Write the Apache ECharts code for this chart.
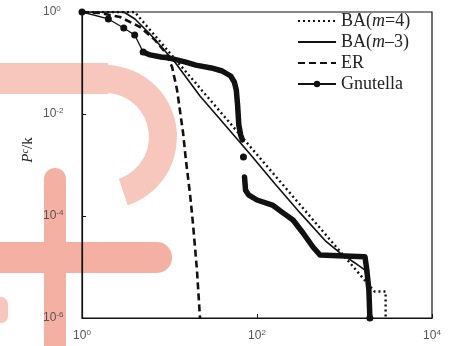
<!DOCTYPE html>
<html>
<head>
<meta charset="utf-8">
<script src="https://cdn.jsdelivr.net/npm/echarts@6/dist/echarts.min.js"></script>
<style>html,body{margin:0;padding:0;background:#fff}#c{width:449px;height:346px}</style>
</head>
<body>
<div id="c"></div>
<script>
// Axis ticks (degree k on x, cumulative P on y)
const xTicks = [1, 100, 10000];
const yTicks = [1e-6, 1e-4, 1e-2, 1];

// BA(m=4)
const ba4K = [1, 4, 5, 10, 20, 50, 100, 200, 500, 1000, 2200, 2950, 2950];
const ba4P = [1, 1, 0.64, 0.16, 0.04, 0.0064, 0.0016, 0.0004, 6.4e-5, 1.6e-5, 3.3e-6, 3.3e-6, 1e-6];

// BA(m=3)
const ba3K = [1, 3, 4.03, 5.98, 11.5, 22.3, 43.1, 83.2, 161, 311, 600, 888, 1318, 1715, 1870, 2010];
const ba3P = [1, 1, 0.729, 0.37, 0.105, 0.0225, 0.0061, 0.00164, 4.25e-4, 1.15e-4, 3.3e-5, 1.89e-5, 1.2e-5, 8.7e-6, 3.5e-6, 1e-6];

// ER
const erK = [1, 1.6, 2.72, 4.6, 6.83, 8.9, 10.7, 12.2, 14.3, 15.4, 17.2, 18.6, 20.6, 22.3];
const erP = [1, 0.956, 0.798, 0.508, 0.283, 0.164, 0.0835, 0.0296, 0.00425, 0.00125, 2.6e-4, 6.7e-5, 8.7e-6, 1e-6];

// Gnutella: sparse head (distinct markers)
const gnHeadK = [1, 2, 3, 4, 5];
const gnHeadP = [1, 0.73, 0.485, 0.354, 0.164];
// Gnutella: dense part, first segment
const gnAK = [5, 6, 8, 10, 15, 20, 30, 40, 50, 55, 58, 60, 62, 65, 68];
const gnAP = [0.164, 0.144, 0.131, 0.125, 0.105, 0.091, 0.080, 0.0697, 0.0556, 0.0425, 0.0296, 0.015, 0.00608, 0.0039, 0.0031];
// Gnutella: dense part, second segment
const gnBK = [72, 74, 80, 100, 150, 200, 258, 336, 436, 525, 1000, 1715, 1800, 1900, 1950];
const gnBP = [5.8e-4, 3.2e-4, 2.6e-4, 2.06e-4, 1.64e-4, 1.14e-4, 8.35e-5, 4.64e-5, 2.47e-5, 1.72e-5, 1.65e-5, 1.58e-5, 8.7e-6, 3.5e-6, 1e-6];
// Gnutella: isolated points
const gnPtK = [70, 1950];
const gnPtP = [0.00144, 1e-6];

const zip = (a, b) => a.map((v, i) => [v, b[i]]);

const chart = echarts.init(document.getElementById('c'), null, {renderer: 'canvas'});

const supFmt = v => {
  const e = Math.round(Math.log10(v));
  return '{b|10}{s|' + e + '}';
};
const lblRich = {
  b: {fontSize: 12, color: '#555', fontFamily: 'Liberation Sans'},
  s: {fontSize: 8, color: '#555', fontFamily: 'Liberation Sans', verticalAlign: 'top', padding: [0, 0, 6, 0]}
};
const legendNames = {
  'BA(m=4)': '{n|BA(}{i|m}{n|=4)}',
  'BA(m=3)': '{n|BA(}{i|m}{n|–3)}',
  'ER': '{n|ER}',
  'Gnutella': '{n|Gnutella}'
};
const wm1 = '#f7c6bc', wm2 = '#f4b0a3';
const serif = 'Liberation Serif';

chart.setOption({
  animation: false,
  backgroundColor: '#fff',
  graphic: [
    {type: 'rect', z: -10, silent: true, shape: {x: 0, y: 63, width: 108, height: 31}, style: {fill: wm1}},
    {type: 'sector', z: -10, silent: true, shape: {cx: 105, cy: 137, r: 72, r0: 44, startAngle: -Math.PI / 2, endAngle: 1.25, clockwise: true}, style: {fill: wm1}},
    {type: 'rect', z: -10, silent: true, shape: {x: 44, y: 168, width: 22, height: 190, r: [11, 11, 0, 0]}, style: {fill: wm2}},
    {type: 'rect', z: -10, silent: true, shape: {x: -10, y: 242, width: 182, height: 31, r: [0, 15, 15, 0]}, style: {fill: wm2}},
    {type: 'rect', z: -10, silent: true, shape: {x: -6, y: 297, width: 14, height: 26, r: 7}, style: {fill: wm1}},
    {type: 'text', z: 10, silent: true, x: 28, y: 150, rotation: Math.PI / 2,
     style: {text: '{i|P}{s|c}{n|/k}', align: 'center', verticalAlign: 'middle',
       rich: {
         i: {fontSize: 15, fontStyle: 'italic', fontFamily: serif, fill: '#222'},
         s: {fontSize: 10, fontStyle: 'italic', fontFamily: serif, fill: '#222', verticalAlign: 'top', padding: [0, 0, 6, 0]},
         n: {fontSize: 15, fontFamily: serif, fill: '#222'}
       }}}
  ],
  grid: {left: 82, right: 17, top: 12, bottom: 28, show: true, borderColor: '#111', borderWidth: 1.2, backgroundColor: 'transparent'},
  legend: {
    orient: 'vertical',
    left: 297, top: 12, padding: 0,
    itemWidth: 38, itemHeight: 8, itemGap: 3,
    data: [
      {name: 'BA(m=4)', itemStyle: {opacity: 0}},
      {name: 'BA(m=3)', itemStyle: {opacity: 0}},
      {name: 'ER', itemStyle: {opacity: 0}},
      {name: 'Gnutella'}
    ],
    formatter: n => legendNames[n],
    textStyle: {
      fontSize: 18, color: '#222', fontFamily: serif,
      rich: {
        n: {fontSize: 18, color: '#222', fontFamily: serif},
        i: {fontSize: 18, color: '#222', fontFamily: serif, fontStyle: 'italic'}
      }
    }
  },
  xAxis: {
    type: 'log', logBase: 100, min: xTicks[0], max: xTicks[xTicks.length - 1],
    axisLine: {show: true, onZero: false, lineStyle: {color: '#111', width: 1.2}},
    axisTick: {show: true, inside: true, length: 4, lineStyle: {color: '#111'}},
    minorTick: {show: false},
    splitLine: {show: false},
    axisLabel: {margin: 11, formatter: supFmt, rich: lblRich}
  },
  yAxis: {
    type: 'log', logBase: 100, min: yTicks[0], max: yTicks[yTicks.length - 1],
    axisLine: {show: true, onZero: false, lineStyle: {color: '#111', width: 1.2}},
    axisTick: {show: true, inside: true, length: 4, lineStyle: {color: '#111'}},
    minorTick: {show: false},
    splitLine: {show: false},
    axisLabel: {margin: 39, align: 'left', formatter: supFmt, rich: lblRich}
  },
  series: [
    {name: 'BA(m=4)', type: 'line', data: zip(ba4K, ba4P), symbol: 'none', z: 3,
     lineStyle: {color: '#111', width: 2.4, type: [2, 3]}, itemStyle: {color: '#111'}},
    {name: 'BA(m=3)', type: 'line', data: zip(ba3K, ba3P), symbol: 'none', z: 3,
     lineStyle: {color: '#111', width: 1.6, type: 'solid'}, itemStyle: {color: '#111'}},
    {name: 'ER', type: 'line', data: zip(erK, erP), symbol: 'none', z: 3,
     lineStyle: {color: '#111', width: 2.6, type: [7, 4]}, itemStyle: {color: '#111'}},
    {name: 'Gnutella', type: 'line', data: zip(gnHeadK, gnHeadP), symbol: 'circle', symbolSize: 7, showAllSymbol: true, z: 4,
     lineStyle: {color: '#111', width: 1.3}, itemStyle: {color: '#111'}},
    {name: 'gA', type: 'line', data: zip(gnAK, gnAP), symbol: 'none', z: 4,
     lineStyle: {color: '#111', width: 5.5, cap: 'round', join: 'round'}},
    {name: 'gB', type: 'line', data: zip(gnBK, gnBP), symbol: 'none', z: 4,
     lineStyle: {color: '#111', width: 5.5, cap: 'round', join: 'round'}},
    {name: 'gP', type: 'scatter', data: zip(gnPtK, gnPtP), symbol: 'circle', symbolSize: 7, z: 4,
     itemStyle: {color: '#111', opacity: 1}}
  ]
});
</script>
</body>
</html>
